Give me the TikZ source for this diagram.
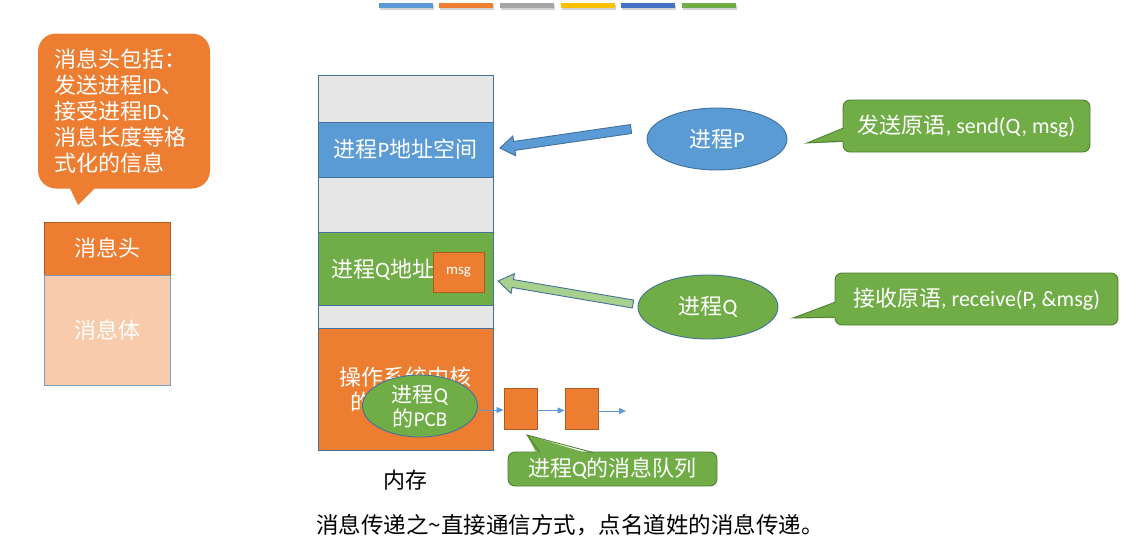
\documentclass[tikz,border=0pt]{standalone}
\usepackage{fontspec}
\setmainfont{Noto Sans CJK SC}
\newfontfamily\lat{Carlito}
\usetikzlibrary{shapes.geometric,arrows.meta,shadows}
\definecolor{cblue}{HTML}{5B9BD5}
\definecolor{corange}{HTML}{ED7D31}
\definecolor{cgray}{HTML}{A5A5A5}
\definecolor{cgold}{HTML}{FFC000}
\definecolor{cdblue}{HTML}{4472C4}
\definecolor{cgreen}{HTML}{70AD47}
\definecolor{clgray}{HTML}{E7E6E6}
\definecolor{cpeach}{HTML}{F8CBAD}
\definecolor{cline}{HTML}{41719C}
\definecolor{cdorange}{HTML}{AE5A21}
\definecolor{cdgreen}{HTML}{507E32}
\definecolor{clgreen}{HTML}{A9D18E}
\begin{document}
\begin{tikzpicture}[x=1pt,y=-1pt,
  font=\fontsize{22}{25}\selectfont,
  bar/.style={minimum width=54, minimum height=5, inner sep=0,
    drop shadow={opacity=0.35, shadow xshift=1pt, shadow yshift=-2pt}},
  seg/.style={draw=cline, line width=0.9pt, minimum width=175, inner sep=0, text=white},
  ell/.style={ellipse, draw=cline, line width=0.9pt, text=white, inner sep=0, align=center},
  callbox/.style={rounded corners=7, fill=cgreen, draw=cdgreen, line width=0.9pt, text=white, inner sep=0},
  tailline/.style={draw=cdgreen, line width=0.9pt},
  qbox/.style={fill=corange, draw=cdorange, line width=0.9pt, minimum width=33, minimum height=41, inner sep=0},
  flow/.style={draw=cblue, line width=0.8pt, -{Triangle[length=7pt,width=6pt]}},
  blockarrow/.style={draw=cline, line width=0.9pt},
  plain/.style={inner sep=0}
]
\useasboundingbox (0,0) rectangle (1148,546);

% top colour bars
\node[bar, fill=cblue]  (b1) at (406,5) {};
\node[bar, fill=corange](b2) at (466,5) {};
\node[bar, fill=cgray]  (b3) at (527,5) {};
\node[bar, fill=cgold]  (b4) at (588,5) {};
\node[bar, fill=cdblue] (b5) at (648,5) {};
\node[bar, fill=cgreen] (b6) at (709,5) {};

% left orange callout
\fill[corange] (66,180) -- (78,205) -- (103,180) -- cycle;
\node[rounded corners=18, fill=corange, text=white, minimum width=172, minimum height=155,
      text width=140, inner xsep=16, inner ysep=0, align=left,
      font=\fontsize{22}{26}\selectfont] (hdr) at (124,111)
  {消息头包括：\\发送进程{\lat ID}、\\接受进程{\lat ID}、\\消息长度等格\\式化的信息};

% message structure
\node[fill=corange, draw=cdorange, line width=0.9pt, minimum width=126, minimum height=53, text=white] (mh) at (107,248.5) {消息头};
\node[fill=cpeach, draw=cline!70, line width=0.9pt, minimum width=126, minimum height=110, text=white] (mb) at (107,330) {消息体};

% memory column
\node[seg, fill=clgray, minimum height=47]  (s1) at (405.5,98.5) {};
\node[seg, fill=cblue,  minimum height=55]  (s2) at (405.5,149.5) {进程{\lat P}地址空间};
\node[seg, fill=clgray, minimum height=55]  (s3) at (405.5,204.5) {};
\node[seg, fill=cgreen, minimum height=73]  (s4) at (405.5,268.5) {};
\node[seg, fill=clgray, minimum height=23]  (s5) at (405.5,316.5) {};
\node[seg, fill=corange,minimum height=122] (s6) at (405.5,389) {};
\node[plain, anchor=west, text=white] (qlab) at (331,270) {进程{\lat Q}地址空间};
\node[fill=corange, draw=cdorange, line width=0.9pt, minimum width=51, minimum height=40, inner sep=0,
      text=white, font=\lat\fontsize{15}{17}\selectfont] (msg) at (458.5,272) {msg};
\node[plain, text=white, align=center, font=\fontsize{22}{25}\selectfont] (klab) at (405,390) {操作系统内核\\的地址空间};

% PCB and queue
\node[ell, fill=cgreen, minimum width=115, minimum height=62, font=\fontsize{21}{24}\selectfont] (pcb) at (420,406) {进程{\lat Q}\\的{\lat PCB}};
\node[qbox] (q1) at (520.5,408.5) {};
\node[qbox] (q2) at (581.5,408.5) {};
\coordinate (qend) at (626,411);
\draw[flow] (pcb.east |- 0,410) -- (q1.west |- 0,410);
\draw[flow] (q1.east |- 0,410.5) -- (q2.west |- 0,410.5);
\draw[flow] (q2.east |- 0,411) -- (qend);

% queue callout
\node[callbox, minimum width=209, minimum height=34] (qc) at (612.5,469) {进程{\lat Q}的消息队列};
\fill[cgreen] (538,456) -- (527,435) -- (596,456) -- cycle;
\draw[tailline] (540,452.5) -- (527,435) -- (593,452.5);

% memory label and caption
\node[plain] (mem) at (405,480) {内存};
\node[plain, font=\fontsize{22.5}{26}\selectfont] (cap) at (570,525) {消息传递之\textasciitilde 直接通信方式，点名道姓的消息传递。};

% process P
\node[ell, fill=cblue, minimum width=140, minimum height=62] (pp) at (717,139) {进程{\lat P}};
\coordinate (pt) at (631,129);
\begin{scope}[shift={(pt)}, rotate=188.25]
  \filldraw[blockarrow, fill=cblue] (0,-4.5) -- (118,-4.5) -- (118,-10) -- (132.4,0) -- (118,10) -- (118,4.5) -- (0,4.5) -- cycle;
\end{scope}

% process Q
\node[ell, fill=cgreen, minimum width=140, minimum height=64] (pq) at (708,307) {进程{\lat Q}};
\coordinate (qt) at (633,304);
\begin{scope}[shift={(qt)}, rotate=170.33]
  \filldraw[blockarrow, fill=clgreen] (0,-4) -- (122,-4) -- (122,-10) -- (136.9,0) -- (122,10) -- (122,4) -- (0,4) -- cycle;
\end{scope}

% send callout
\node[callbox, minimum width=247, minimum height=52] (snd) at (966.5,126) {发送原语{\lat , send(Q, msg)}};
\fill[cgreen] (847,127) -- (807,143) -- (847,142) -- cycle;
\draw[tailline] (843.5,128) -- (807,143) -- (843.5,141);

% receive callout
\node[callbox, minimum width=283, minimum height=52] (rcv) at (976.5,299) {接收原语{\lat , receive(P, \&msg)}};
\fill[cgreen] (839,301) -- (793,318) -- (839,318) -- cycle;
\draw[tailline] (835.5,302) -- (793,318) -- (835.5,317);
\end{tikzpicture}
\end{document}
